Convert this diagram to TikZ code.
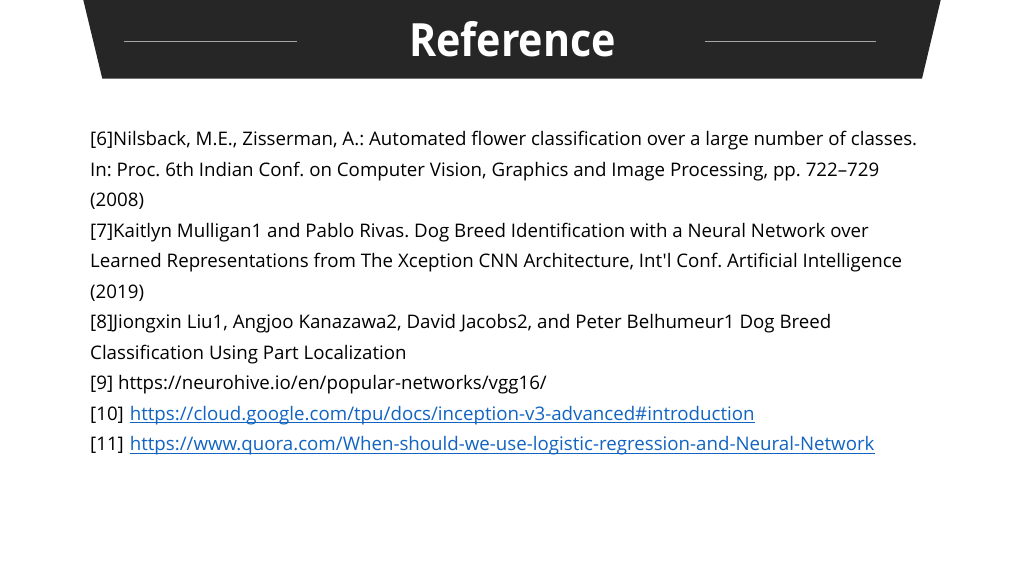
\documentclass[tikz,border=0pt]{standalone}
\usepackage{fontspec}
\setmainfont{Open Sans}[Ligatures=TeXOff]
\newfontfamily\titlefont[FakeStretch=0.9]{Open Sans Bold}
\definecolor{banner}{HTML}{262626}
\definecolor{rule}{HTML}{A6A6A6}
\definecolor{linkblue}{RGB}{18,100,194}
\frenchspacing
\begin{document}
\begin{tikzpicture}[x=1pt,y=-1pt,
  refline/.style={anchor=base west,inner sep=0pt,font=\fontsize{18.7}{22}\selectfont,text=black},
  linktext/.style={refline,text=linkblue},
  underline/.style={draw=linkblue,line width=1pt}]
\useasboundingbox (0,0) rectangle (1024,576);
\fill[white] (0,0) rectangle (1024,576);
\fill[banner] (83.3,0) -- (940.7,0) -- (922,78.7) -- (102.3,78.7) -- cycle;
\draw[rule,line width=1pt] (124.3,41.2) -- (297.3,41.2);
\draw[rule,line width=1pt] (705,41.2) -- (876,41.2);
\node[anchor=base,inner sep=0pt,text=white,font=\titlefont\fontsize{45.8}{50}\selectfont] (title) at (512.5,56.7) {Reference};
\node[refline] (r1) at (90,145.5) {[6]Nilsback, M.E., Zisserman, A.: Automated flower classification over a large number of classes.};
\node[refline] (r2) at (90,176.0) {In: Proc. 6th Indian Conf. on Computer Vision, Graphics and Image Processing, pp. 722–729};
\node[refline] (r3) at (90,206.5) {(2008)};
\node[refline] (r4) at (90,237.0) {[7]Kaitlyn Mulligan1 and Pablo Rivas. Dog Breed Identification with a Neural Network over};
\node[refline] (r5) at (90,267.5) {Learned Representations from The Xception CNN Architecture, Int'l Conf. Artificial Intelligence};
\node[refline] (r6) at (90,298.0) {(2019)};
\node[refline] (r7) at (90,328.5) {[8]Jiongxin Liu1, Angjoo Kanazawa2, David Jacobs2, and Peter Belhumeur1 Dog Breed};
\node[refline] (r8) at (90,359.0) {Classification Using Part Localization};
\node[refline] (r9) at (90,389.5) {[9] https://neurohive.io/en/popular-networks/vgg16/};
\node[refline] (r10) at (90,420.0) {[10]};
\node[linktext] (u10) at ([xshift=5.5pt]r10.base east) {https://cloud.google.com/tpu/docs/inception-v3-advanced\#introduction};
\draw[underline] ([yshift=-2.7pt]u10.base west) -- ([yshift=-2.7pt]u10.base east);
\node[refline] (r11) at (90,450.5) {[11]};
\node[linktext] (u11) at ([xshift=5.5pt]r11.base east) {https://www.quora.com/When-should-we-use-logistic-regression-and-Neural-Network};
\draw[underline] ([yshift=-2.7pt]u11.base west) -- ([yshift=-2.7pt]u11.base east);
\end{tikzpicture}
\end{document}
